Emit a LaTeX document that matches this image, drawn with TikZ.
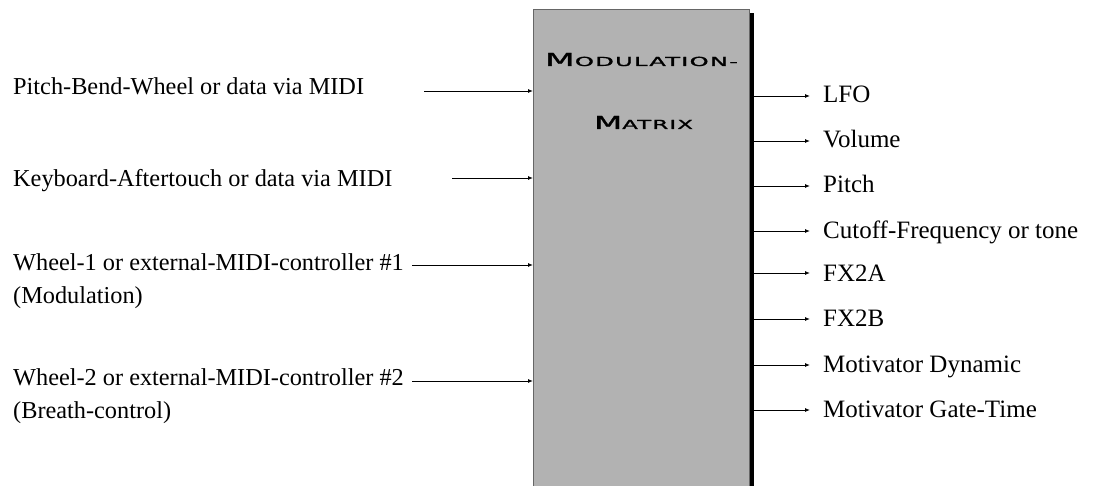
\documentclass[tikz,border=0pt]{standalone}
\usepackage{fontspec}
\setmainfont{Liberation Serif}
\newfontfamily\titlefont[LetterSpace=5,FakeBold=1.2]{DejaVu Sans}
\usetikzlibrary{arrows.meta}

% heading in a wide small-caps style: large initial, smaller remaining capitals
\newcommand\capsword[2]{{\titlefont\fontsize{18}{18}\selectfont #1\fontsize{12.6}{12.6}\selectfont #2}}

\tikzset{
  lbl/.style={font=\fontsize{24.3}{28}\selectfont, inner sep=0pt, anchor=base west},
  outlbl/.style={lbl, font=\fontsize{25}{28}\selectfont},
  conn/.style={-{Latex[length=5pt,width=4pt]}, line width=0.9pt},
  matrixbox/.style={draw=black!60, line width=1pt, fill=black!30, anchor=north west,
    minimum width=216pt, minimum height=520pt, inner sep=0pt},
  headline/.style={inner sep=0pt, anchor=base}
}

\begin{document}
\begin{tikzpicture}[x=1pt, y=-1pt]
  \useasboundingbox (0,0) rectangle (1107,486);
  \clip (0,0) rectangle (1107,486);

  % the matrix block and its drop shadow
  \fill[black] (749,13) rectangle (754,520);
  \node[matrixbox] (mm) at (533,9) {};
  \node[headline] (h1) at (641.5,66) {\resizebox{193pt}{13pt}{\capsword{M}{ODULATION-}}};
  \node[headline] (h2) at (643.5,129) {\resizebox{99pt}{13pt}{\capsword{M}{ATRIX}}};

  % sources
  \node[lbl] (in1) at (13,95) {Pitch-Bend-Wheel or data via MIDI};
  \node[lbl] (in2) at (13,187) {Keyboard-Aftertouch or data via MIDI};
  \node[lbl] (in3) at (13,270) {Wheel-1 or external-MIDI-controller \#1};
  \node[lbl] (in3b) at (13,303) {(Modulation)};
  \node[lbl] (in4) at (13,385) {Wheel-2 or external-MIDI-controller \#2};
  \node[lbl] (in4b) at (13,418) {(Breath-control)};

  \coordinate (a1) at (424,91);
  \coordinate (a2) at (452,178);
  \coordinate (a3) at (412,265);
  \coordinate (a4) at (412,381);
  \foreach \c in {a1,a2,a3,a4}
    \draw[conn] (\c) -- (\c -| mm.west);

  % destinations
  \node[outlbl] (o1) at (823,103) {LFO};
  \node[outlbl] (o2) at (823,148) {Volume};
  \node[outlbl] (o3) at (823,193) {Pitch};
  \node[outlbl] (o4) at (823,238) {Cutoff-Frequency or tone};
  \node[outlbl] (o5) at (823,281) {FX2A};
  \node[outlbl] (o6) at (823,326) {FX2B};
  \node[outlbl] (o7) at (823,372) {Motivator Dynamic};
  \node[outlbl] (o8) at (823,417) {Motivator Gate-Time};

  \coordinate (sh) at (754,0);
  \foreach \i/\y in {1/96,2/141,3/186,4/231,5/273,6/319,7/365,8/410} {
    \coordinate (e\i) at (810,\y);
    \draw[conn] (sh |- e\i) -- (e\i);
  }
\end{tikzpicture}
\end{document}
